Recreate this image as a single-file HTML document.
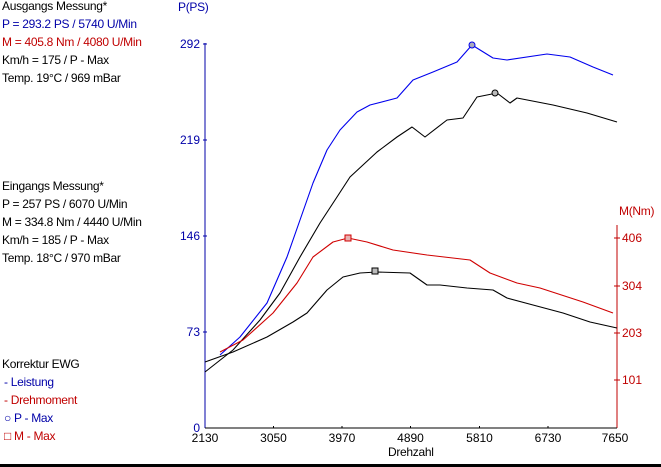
<!DOCTYPE html>
<html><head><style>
body{margin:0;width:661px;height:467px;background:#fff;overflow:hidden;position:relative;font-family:"Liberation Sans",sans-serif;font-size:12px}
.t{position:absolute;white-space:nowrap;line-height:13px;letter-spacing:-0.3px}
.b{color:#0000a8}.r{color:#c00000}.k{color:#000}
</style></head><body>
<div class="t k" style="left:2px;top:0">Ausgangs Messung*</div>
<div class="t b" style="left:2px;top:18px">P = 293.2 PS / 5740 U/Min</div>
<div class="t r" style="left:2px;top:36px">M = 405.8 Nm / 4080 U/Min</div>
<div class="t k" style="left:2px;top:54px">Km/h = 175 / P - Max</div>
<div class="t k" style="left:2px;top:72px">Temp. 19°C / 969 mBar</div>
<div class="t k" style="left:2px;top:180px">Eingangs Messung*</div>
<div class="t k" style="left:2px;top:198px">P = 257 PS / 6070 U/Min</div>
<div class="t k" style="left:2px;top:216px">M = 334.8 Nm / 4440 U/Min</div>
<div class="t k" style="left:2px;top:234px">Km/h = 185 / P - Max</div>
<div class="t k" style="left:2px;top:252px">Temp. 18°C / 970 mBar</div>
<div class="t k" style="left:2px;top:358px">Korrektur EWG</div>
<div class="t b" style="left:4px;top:376px">- Leistung</div>
<div class="t r" style="left:4px;top:394px">- Drehmoment</div>
<div class="t b" style="left:4px;top:412px">○ P - Max</div>
<div class="t r" style="left:4px;top:430px">□ M - Max</div>
<div class="t b" style="left:178px;top:1px">P(PS)</div>
<div class="t r" style="left:619px;top:205px">M(Nm)</div>
<div class="t k" style="left:388px;top:446px">Drehzahl</div>
<svg width="661" height="467" style="position:absolute;left:0;top:0" font-family="Liberation Sans" font-size="12">
<g fill="#0000a8" text-anchor="end">
<text x="200" y="48">292</text><text x="200" y="144">219</text><text x="200" y="240">146</text><text x="200" y="336">73</text><text x="200" y="432">0</text></g>
<line x1="205" y1="43" x2="205" y2="428" stroke="#0000a8"/>
<g stroke="#0000a8"><line x1="203" y1="44" x2="207" y2="44"/><line x1="203" y1="140" x2="207" y2="140"/><line x1="203" y1="236" x2="207" y2="236"/><line x1="203" y1="332" x2="207" y2="332"/></g>
<line x1="617" y1="225" x2="617" y2="428" stroke="#c00000"/>
<g stroke="#c00000"><line x1="614" y1="238" x2="620" y2="238"/><line x1="614" y1="286" x2="620" y2="286"/><line x1="614" y1="333" x2="620" y2="333"/><line x1="614" y1="380" x2="620" y2="380"/></g>
<g fill="#c00000"><text x="622" y="242">406</text><text x="622" y="290">304</text><text x="622" y="337">203</text><text x="622" y="384">101</text></g>
<line x1="205" y1="428" x2="617" y2="428" stroke="#000"/>
<g stroke="#000"><line x1="273.5" y1="426" x2="273.5" y2="428"/><line x1="342" y1="426" x2="342" y2="428"/><line x1="410.5" y1="426" x2="410.5" y2="428"/><line x1="479.5" y1="426" x2="479.5" y2="428"/><line x1="548" y1="426" x2="548" y2="428"/></g>
<g fill="#000" text-anchor="middle"><text x="205" y="442">2130</text><text x="273.5" y="442">3050</text><text x="342" y="442">3970</text><text x="410.5" y="442">4890</text><text x="479.5" y="442">5810</text><text x="548" y="442">6730</text><text x="615" y="442">7650</text></g>
<g fill="none" stroke-width="1.1" stroke-linejoin="round">
<polyline stroke="#0000ee" points="220,355 240,337 267,303 287,257 300,220 313,183 327,150 340,130 357,112 370,105 397,98 413,80 433,72 457,62 472,45 493,58 507,60 547,54 570,57 593,67 613,75"/>
<polyline stroke="#000" points="205,372 233,350 260,320 280,293 300,257 320,223 337,197 350,177 377,152 397,137 412,127 425,137 447,120 463,118 477,97 497,93 510,103 517,98 553,105 587,113 617,122"/>
<polyline stroke="#d00000" points="220,352 243,340 273,313 297,283 313,257 333,242 348,238 367,242 393,250 427,255 470,260 490,273 517,283 540,288 583,302 613,313"/>
<polyline stroke="#000" points="205,362 233,352 267,337 293,322 307,313 327,290 343,277 360,273 377,272 410,273 427,285 440,285 467,288 493,290 507,298 533,305 563,313 590,322 617,328"/>
</g>
<circle cx="472" cy="45" r="3" stroke="#0000ee" fill="#aab"/>
<circle cx="495" cy="93" r="3" stroke="#000" fill="#bbb"/>
<rect x="345" y="235" width="6" height="6" stroke="#d00000" fill="#e8b0b0"/>
<rect x="372" y="268" width="6" height="6" stroke="#000" fill="#bbb"/>
<rect x="0" y="464" width="661" height="3" fill="#000"/>
</svg>
</body></html>
